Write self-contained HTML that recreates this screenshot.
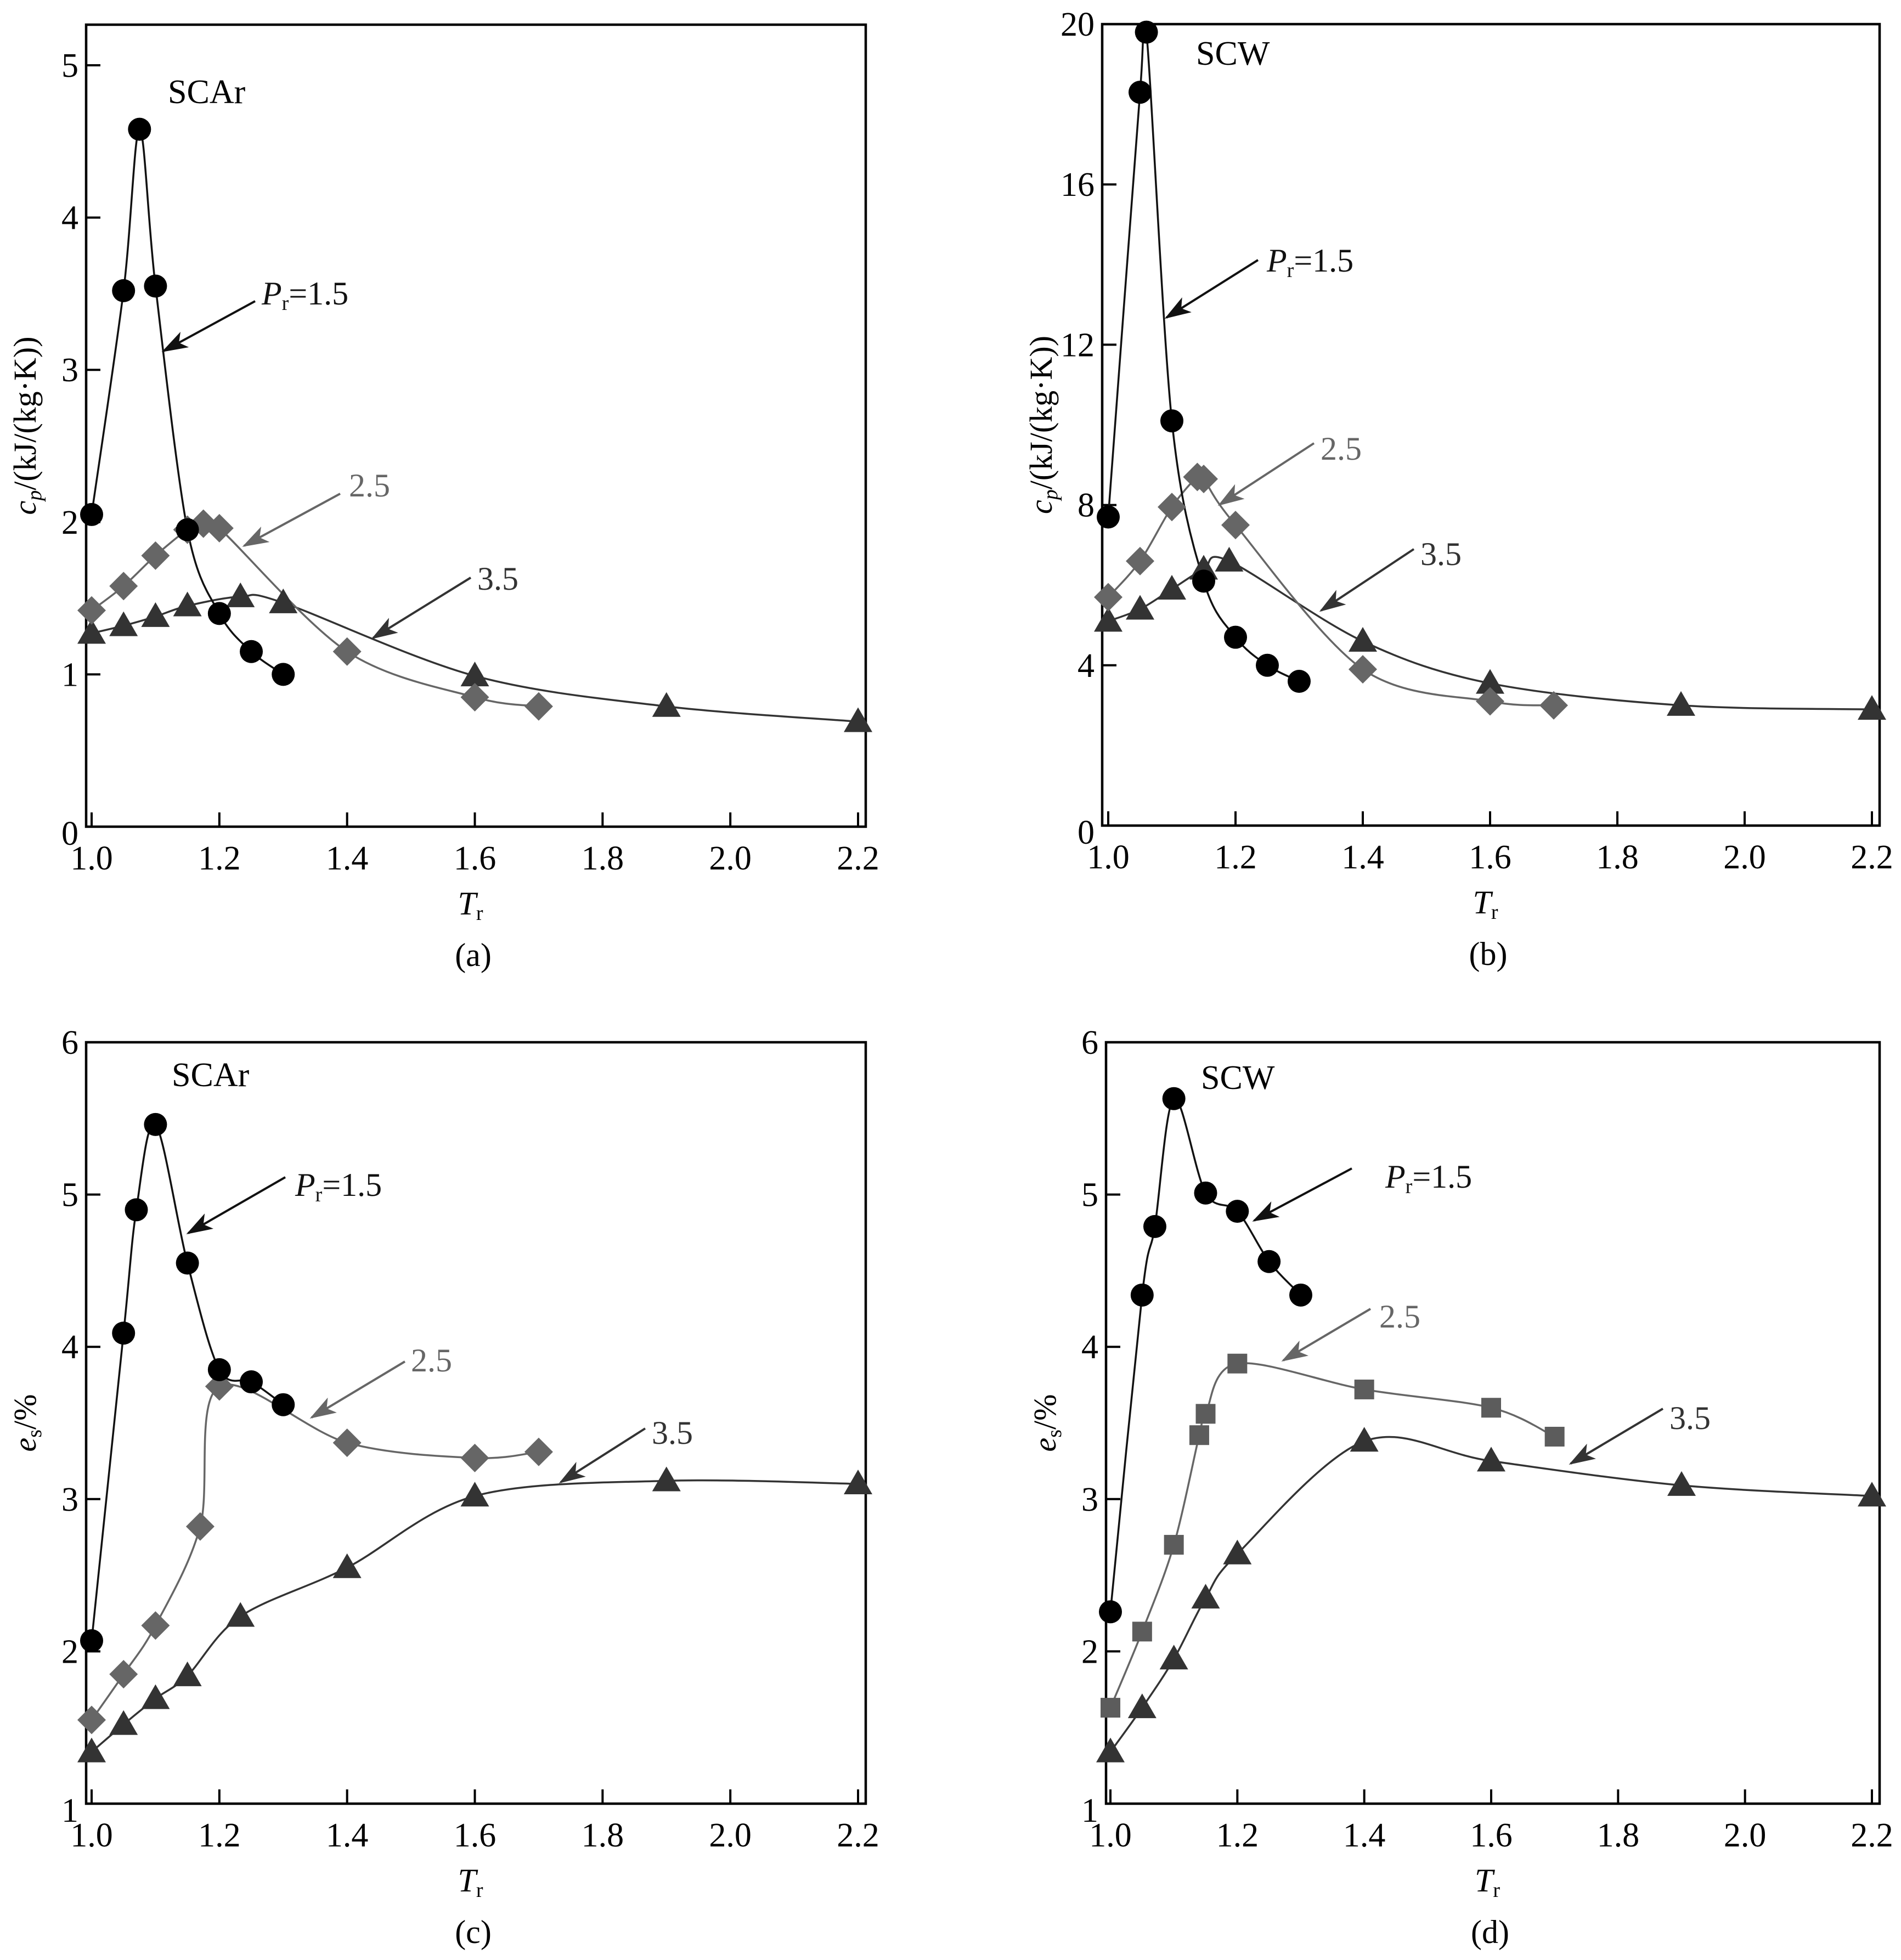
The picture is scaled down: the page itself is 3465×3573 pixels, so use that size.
<!DOCTYPE html>
<html><head><meta charset="utf-8">
<style>
html,body{margin:0;padding:0;background:#fff;}
svg{display:block;}
text{font-family:"Liberation Serif",serif;}
</style></head>
<body>
<svg id="fig" width="3465" height="3573" viewBox="0 0 3465 3573" xmlns="http://www.w3.org/2000/svg">
<defs id="defs">
<marker id="ahBlack" markerWidth="12" markerHeight="8" refX="11" refY="4" orient="auto" markerUnits="strokeWidth"><path d="M0,0 L12,4 L0,8 L3,4 Z" fill="#111"/></marker>
<marker id="ahGray" markerWidth="12" markerHeight="8" refX="11" refY="4" orient="auto" markerUnits="strokeWidth"><path d="M0,0 L12,4 L0,8 L3,4 Z" fill="#666"/></marker>
<marker id="ahDark" markerWidth="12" markerHeight="8" refX="11" refY="4" orient="auto" markerUnits="strokeWidth"><path d="M0,0 L12,4 L0,8 L3,4 Z" fill="#333"/></marker>
</defs>
</svg>
<script>
// ---- Panel (a): SCAr cp ----
const aTr15 = [1.0, 1.05, 1.075, 1.1, 1.15, 1.2, 1.25, 1.3];
const aCp15 = [2.05, 3.52, 4.58, 3.55, 1.95, 1.40, 1.15, 1.00];
const aTr25 = [1.0, 1.05, 1.1, 1.15, 1.175, 1.2, 1.4, 1.6, 1.7];
const aCp25 = [1.42, 1.58, 1.78, 1.95, 1.99, 1.96, 1.15, 0.85, 0.79];
const aTr35 = [1.0, 1.05, 1.1, 1.15, 1.233, 1.3, 1.6, 1.9, 2.2];
const aCp35 = [1.27, 1.32, 1.38, 1.45, 1.51, 1.47, 0.99, 0.79, 0.69];
const aYTicks = [0, 1, 2, 3, 4, 5];
// ---- Panel (b): SCW cp ----
const bTr15 = [1.0, 1.05, 1.06, 1.1, 1.15, 1.2, 1.25, 1.3];
const bCp15 = [7.7, 18.3, 19.8, 10.1, 6.1, 4.7, 4.0, 3.6];
const bTr25 = [1.0, 1.05, 1.1, 1.14, 1.15, 1.2, 1.4, 1.6, 1.7];
const bCp25 = [5.7, 6.6, 7.95, 8.7, 8.65, 7.5, 3.9, 3.1, 3.0];
const bTr35 = [1.0, 1.05, 1.1, 1.15, 1.19, 1.4, 1.6, 1.9, 2.2];
const bCp35 = [5.1, 5.4, 5.9, 6.4, 6.6, 4.6, 3.55, 3.0, 2.9];
const bYTicks = [0, 4, 8, 12, 16, 20];
// ---- Panel (c): SCAr es ----
const cTr15 = [1.0, 1.05, 1.07, 1.1, 1.15, 1.2, 1.25, 1.3];
const cEs15 = [2.07, 4.09, 4.90, 5.46, 4.55, 3.85, 3.77, 3.62];
const cTr25 = [1.0, 1.05, 1.1, 1.17, 1.2, 1.4, 1.6, 1.7];
const cEs25 = [1.55, 1.85, 2.17, 2.82, 3.74, 3.37, 3.27, 3.31];
const cTr35 = [1.0, 1.05, 1.1, 1.15, 1.233, 1.4, 1.6, 1.9, 2.2];
const cEs35 = [1.34, 1.52, 1.69, 1.84, 2.23, 2.55, 3.02, 3.12, 3.10];
const cYTicks = [1, 2, 3, 4, 5, 6];
// ---- Panel (d): SCW es ----
const dTr15 = [1.0, 1.05, 1.07, 1.1, 1.15, 1.2, 1.25, 1.3];
const dEs15 = [2.26, 4.34, 4.79, 5.63, 5.01, 4.89, 4.56, 4.34];
const dTr25 = [1.0, 1.05, 1.1, 1.14, 1.15, 1.2, 1.4, 1.6, 1.7];
const dEs25 = [1.63, 2.13, 2.70, 3.42, 3.56, 3.89, 3.72, 3.60, 3.41];
const dTr35 = [1.0, 1.05, 1.1, 1.15, 1.2, 1.4, 1.6, 1.9, 2.2];
const dEs35 = [1.34, 1.63, 1.95, 2.35, 2.64, 3.38, 3.25, 3.09, 3.02];
const dYTicks = [1, 2, 3, 4, 5, 6];
const xTicks = [1.0, 1.2, 1.4, 1.6, 1.8, 2.0, 2.2];

const NS = "http://www.w3.org/2000/svg";
const svg = document.getElementById('fig');
const defs = document.getElementById('defs');
function mk(tag, attrs, parent) {
  const e = document.createElementNS(NS, tag);
  for (const k in attrs) e.setAttribute(k, attrs[k]);
  (parent || svg).appendChild(e);
  return e;
}
function smoothPath(pts) {
  if (pts.length < 2) return '';
  let d = 'M' + pts[0][0].toFixed(1) + ',' + pts[0][1].toFixed(1);
  for (let i = 0; i < pts.length - 1; i++) {
    const p0 = pts[i - 1] || pts[i], p1 = pts[i], p2 = pts[i + 1], p3 = pts[i + 2] || p2;
    const t = 0.16;
    const c1 = [p1[0] + (p2[0] - p0[0]) * t, p1[1] + (p2[1] - p0[1]) * t];
    const c2 = [p2[0] - (p3[0] - p1[0]) * t, p2[1] - (p3[1] - p1[1]) * t];
    d += ' C' + c1[0].toFixed(1) + ',' + c1[1].toFixed(1) + ' ' + c2[0].toFixed(1) + ',' + c2[1].toFixed(1) + ' ' + p2[0].toFixed(1) + ',' + p2[1].toFixed(1);
  }
  return d;
}
function marker(g, shape, x, y, color) {
  let e;
  if (shape === 'circle') e = mk('circle', {cx: x, cy: y, r: 21, fill: color}, g);
  else if (shape === 'diamond') e = mk('polygon', {points: `${x},${y-26} ${x+26},${y} ${x},${y+26} ${x-26},${y}`, fill: color}, g);
  else if (shape === 'triangle') e = mk('polygon', {points: `${x},${y-26} ${x+26},${y+19} ${x-26},${y+19}`, fill: color}, g);
  else e = mk('rect', {x: x - 18, y: y - 18, width: 36, height: 36, fill: color}, g);
  return e;
}
function panel(cfg) {
  const g = mk('g', {});
  
  
  const cp = mk('clipPath', {id: 'clip-' + cfg.name}, defs);
  mk('rect', {x: cfg.fl, y: cfg.ft, width: cfg.fr - cfg.fl, height: cfg.fb - cfg.ft}, cp);
  const X = v => cfg.x0 + (v - 1.0) / 1.2 * (cfg.x1 - cfg.x0);
  const Y = v => cfg.yb - (v - cfg.ymin) / (cfg.ymax - cfg.ymin) * (cfg.yb - cfg.yt);
  const fr = mk('rect', {x: cfg.fl, y: cfg.ft, width: cfg.fr - cfg.fl, height: cfg.fb - cfg.ft, fill: 'none', stroke: '#000', 'stroke-width': 4.5}, g);
  
  
  xTicks.forEach(v => {
    const t = mk('line', {x1: X(v), x2: X(v), y1: cfg.fb, y2: cfg.fb - 26, stroke: '#000', 'stroke-width': 4}, g);
    
    
    const l = mk('text', {x: X(v), y: cfg.fb + 78, 'font-size': 62, 'text-anchor': 'middle', fill: '#000'}, g);
    l.textContent = v.toFixed(1);
    
    
  });
  cfg.yTicks.forEach(v => {
    const yy = Y(v);
    const t = mk('line', {x1: cfg.fl, x2: cfg.fl + 26, y1: yy, y2: yy, stroke: '#000', 'stroke-width': 4}, g);
    
    
    const l = mk('text', {x: cfg.fl - 14, y: yy + 21 + (v === cfg.ymin ? 12 : 0), 'font-size': 62, 'text-anchor': 'end', fill: '#000'}, g);
    l.textContent = String(v);
    
    
  });
  const sg = mk('g', {'clip-path': 'url(#clip-' + cfg.name + ')'}, g);
  cfg.series.forEach(s => {
    const pts = s.xs.map((v, i) => [X(v), Y(s.ys[i])]);
    const p = mk('path', {d: smoothPath(pts), fill: 'none', stroke: s.line, 'stroke-width': 3.5}, sg);
    
    
    pts.forEach(pt => {
      const m = marker(g, s.shape, pt[0], pt[1], s.color);
      
      
    });
  });
  cfg.notes.forEach(n => {
    const a = mk('line', {x1: n.ax1, y1: n.ay1, x2: n.ax2, y2: n.ay2, stroke: n.color, 'stroke-width': 4, 'marker-end': 'url(#' + n.mark + ')'}, g);
    
    
    const t = mk('text', {x: n.tx, y: n.ty, 'font-size': 60, fill: n.color}, g);
    
    
    if (n.pr) {
      t.innerHTML = '<tspan font-style="italic">P</tspan><tspan font-size="38" dy="10">r</tspan><tspan dy="-10">=' + n.label + '</tspan>';
    } else t.textContent = n.label;
  });
  const sub = mk('text', {x: cfg.subX, y: cfg.subY, 'font-size': 62, fill: '#000'}, g);
  sub.textContent = cfg.substance;
  
  
  const xt = mk('text', {x: (cfg.fl + cfg.fr) / 2 - 10, y: cfg.fb + 160, 'font-size': 60, 'text-anchor': 'middle'}, g);
  xt.innerHTML = '<tspan font-style="italic">T</tspan><tspan font-size="38" dy="10">r</tspan>';
  
  
  const yc = (cfg.ft + cfg.fb) / 2;
  const yt = mk('text', {x: 0, y: 0, 'font-size': 58, 'text-anchor': 'middle', transform: `translate(${cfg.fl - 92},${yc}) rotate(-90)`}, g);
  yt.innerHTML = cfg.ylab;
  
  
  const cap = mk('text', {x: (cfg.fl + cfg.fr) / 2 - 5, y: cfg.fb + 254, 'font-size': 60, 'text-anchor': 'middle'}, g);
  cap.textContent = cfg.caption;
  
  
}
const cpLab = '<tspan font-style="italic">c</tspan><tspan font-style="italic" font-size="38" dy="10">p</tspan><tspan dy="-10">/(kJ/(kg·K))</tspan>';
const esLab = '<tspan font-style="italic">e</tspan><tspan font-size="38" dy="10">s</tspan><tspan dy="-10">/%</tspan>';
function ser(x15, y15, x25, y25, x35, y35, sq) {
  return [
    {name: 'pr-3.5', xs: x35, ys: y35, shape: 'triangle', color: '#333', line: '#333'},
    {name: 'pr-2.5', xs: x25, ys: y25, shape: sq ? 'square' : 'diamond', color: sq ? '#5c5c5c' : '#666', line: '#666'},
    {name: 'pr-1.5', xs: x15, ys: y15, shape: 'circle', color: '#000', line: '#111'}
  ];
}
panel({name: 'panel-a', fl: 157, fr: 1578, ft: 45, fb: 1507, x0: 167, x1: 1564, yb: 1507, yt: 119, ymin: 0, ymax: 5,
  yTicks: aYTicks, series: ser(aTr15, aCp15, aTr25, aCp25, aTr35, aCp35, false),
  substance: 'SCAr', subX: 306, subY: 188, ylab: cpLab, caption: '(a)',
  notes: [
    {pr: true, label: '1.5', tx: 477, ty: 555, ax1: 465, ay1: 549, ax2: 298, ay2: 640, color: '#111', mark: 'ahBlack'},
    {label: '2.5', tx: 636, ty: 905, ax1: 620, ay1: 900, ax2: 445, ay2: 995, color: '#666', mark: 'ahGray'},
    {label: '3.5', tx: 870, ty: 1075, ax1: 858, ay1: 1053, ax2: 680, ay2: 1163, color: '#333', mark: 'ahDark'}
  ]});
panel({name: 'panel-b', fl: 2009, fr: 3426, ft: 44, fb: 1505, x0: 2020, x1: 3412, yb: 1505, yt: 44, ymin: 0, ymax: 20,
  yTicks: bYTicks, series: ser(bTr15, bCp15, bTr25, bCp25, bTr35, bCp35, false),
  substance: 'SCW', subX: 2180, subY: 118, ylab: cpLab, caption: '(b)',
  notes: [
    {pr: true, label: '1.5', tx: 2309, ty: 495, ax1: 2293, ay1: 474, ax2: 2126, ay2: 579, color: '#111', mark: 'ahBlack'},
    {label: '2.5', tx: 2407, ty: 838, ax1: 2395, ay1: 808, ax2: 2223, ay2: 920, color: '#666', mark: 'ahGray'},
    {label: '3.5', tx: 2589, ty: 1030, ax1: 2577, ay1: 1001, ax2: 2408, ay2: 1113, color: '#333', mark: 'ahDark'}
  ]});
panel({name: 'panel-c', fl: 157, fr: 1578, ft: 1900, fb: 3288, x0: 167, x1: 1564, yb: 3288, yt: 1900, ymin: 1, ymax: 6,
  yTicks: cYTicks, series: ser(cTr15, cEs15, cTr25, cEs25, cTr35, cEs35, false),
  substance: 'SCAr', subX: 313, subY: 1980, ylab: esLab, caption: '(c)',
  notes: [
    {pr: true, label: '1.5', tx: 538, ty: 2180, ax1: 520, ay1: 2146, ax2: 343, ay2: 2248, color: '#111', mark: 'ahBlack'},
    {label: '2.5', tx: 749, ty: 2500, ax1: 738, ay1: 2482, ax2: 568, ay2: 2584, color: '#666', mark: 'ahGray'},
    {label: '3.5', tx: 1188, ty: 2632, ax1: 1176, ay1: 2604, ax2: 1022, ay2: 2702, color: '#333', mark: 'ahDark'}
  ]});
panel({name: 'panel-d', fl: 2016, fr: 3426, ft: 1900, fb: 3288, x0: 2024, x1: 3412, yb: 3288, yt: 1900, ymin: 1, ymax: 6,
  yTicks: dYTicks, series: ser(dTr15, dEs15, dTr25, dEs25, dTr35, dEs35, true),
  substance: 'SCW', subX: 2189, subY: 1985, ylab: esLab, caption: '(d)',
  notes: [
    {pr: true, label: '1.5', tx: 2525, ty: 2165, ax1: 2464, ay1: 2130, ax2: 2286, ay2: 2225, color: '#111', mark: 'ahBlack'},
    {label: '2.5', tx: 2514, ty: 2420, ax1: 2498, ay1: 2386, ax2: 2339, ay2: 2480, color: '#666', mark: 'ahGray'},
    {label: '3.5', tx: 3043, ty: 2605, ax1: 3031, ay1: 2568, ax2: 2863, ay2: 2668, color: '#333', mark: 'ahDark'}
  ]});
</script>
</body></html>
